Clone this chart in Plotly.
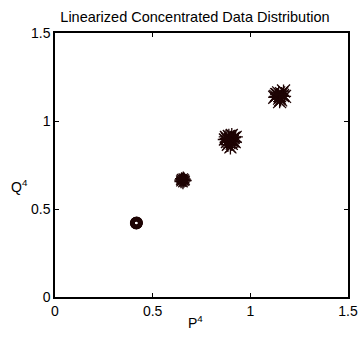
import plotly.graph_objects as go

# Cluster 1 (circles)
c1_x = [0.415, 0.418, 0.416, 0.419, 0.417, 0.414, 0.418]
c1_y = [0.420, 0.422, 0.418, 0.421, 0.419, 0.421, 0.423]

# Cluster 2 (asterisks)
c2_x = [0.650, 0.658, 0.645, 0.662, 0.655, 0.648, 0.660, 0.652, 0.666, 0.644, 0.657]
c2_y = [0.660, 0.665, 0.655, 0.670, 0.650, 0.672, 0.658, 0.668, 0.662, 0.664, 0.676]

# Cluster 3 (asterisks and crosses)
c3_x = [0.880, 0.895, 0.905, 0.915, 0.890, 0.870, 0.925, 0.900, 0.885, 0.910, 0.875, 0.920, 0.898, 0.905, 0.880]
c3_y = [0.880, 0.900, 0.870, 0.905, 0.915, 0.895, 0.910, 0.890, 0.865, 0.885, 0.910, 0.880, 0.850, 0.920, 0.900]

# Cluster 4 (crosses and asterisks)
c4_x = [1.130, 1.150, 1.160, 1.140, 1.170, 1.155, 1.125, 1.165, 1.145, 1.175, 1.135, 1.150]
c4_y = [1.140, 1.130, 1.155, 1.150, 1.170, 1.120, 1.135, 1.145, 1.160, 1.140, 1.150, 1.110]

x_ticks = [0, 0.5, 1, 1.5]
x_tick_labels = ["0", "0.5", "1", "1.5"]
y_ticks = [0, 0.5, 1, 1.5]
y_tick_labels = ["0", "0.5", "1", "1.5"]

col = "#1e0404"
FONT = "Liberation Sans, Arial"

fig = go.Figure()
fig.add_trace(go.Scatter(x=c1_x, y=c1_y, mode="markers",
                         marker=dict(symbol="circle-open", size=8, color=col, line=dict(width=4, color=col))))
fig.add_trace(go.Scatter(x=c2_x, y=c2_y, mode="markers",
                         marker=dict(symbol="asterisk-open", size=11, color=col, line=dict(width=1.3, color=col))))
fig.add_trace(go.Scatter(x=c3_x, y=c3_y, mode="markers",
                         marker=dict(symbol="asterisk-open", size=12, color=col, line=dict(width=1.3, color=col))))
fig.add_trace(go.Scatter(x=c3_x, y=c3_y, mode="markers",
                         marker=dict(symbol="x-thin-open", size=12, color=col, line=dict(width=1.3, color=col))))
fig.add_trace(go.Scatter(x=c4_x, y=c4_y, mode="markers",
                         marker=dict(symbol="x-thin-open", size=13, color=col, line=dict(width=1.3, color=col))))
fig.add_trace(go.Scatter(x=c4_x, y=c4_y, mode="markers",
                         marker=dict(symbol="asterisk-open", size=11, color=col, line=dict(width=1.3, color=col))))

axis_common = dict(showgrid=False, zeroline=False, showline=True, linecolor="black", linewidth=1.5,
                   mirror="ticks", ticks="inside", ticklen=4, tickcolor="black", automargin=False,
                   tickfont=dict(family=FONT, size=14, color="black"))

fig.update_layout(
    width=359, height=341,
    margin=dict(l=55, r=11, t=33, b=44, autoexpand=False),
    paper_bgcolor="white", plot_bgcolor="white",
    showlegend=False,
    title=dict(text="Linearized Concentrated Data Distribution", x=0.543, xanchor="center",
               y=0.950, yanchor="middle", xref="container", yref="container",
               font=dict(family=FONT, size=14.5, color="black")),
    xaxis=dict(range=[0, 1.5], tickvals=x_ticks, ticktext=x_tick_labels, **axis_common),
    yaxis=dict(range=[0, 1.5], tickvals=y_ticks, ticktext=y_tick_labels, **axis_common),
    annotations=[
        dict(text="Q<sup>4</sup>", xref="paper", yref="paper", x=-0.085, y=0.42,
             showarrow=False, xanchor="right", yanchor="middle",
             font=dict(family=FONT, size=14, color="black")),
        dict(text="P<sup>4</sup>", xref="paper", yref="paper", x=0.48, y=-0.095,
             showarrow=False, xanchor="center", yanchor="middle",
             font=dict(family=FONT, size=14, color="black")),
    ],
)

# remove the default 8px page margin so the 359x341 figure fills the window exactly
fig.write_html("out.html", config={"displayModeBar": False},
               post_script="document.body.style.margin='0px';document.body.style.overflow='hidden';")
